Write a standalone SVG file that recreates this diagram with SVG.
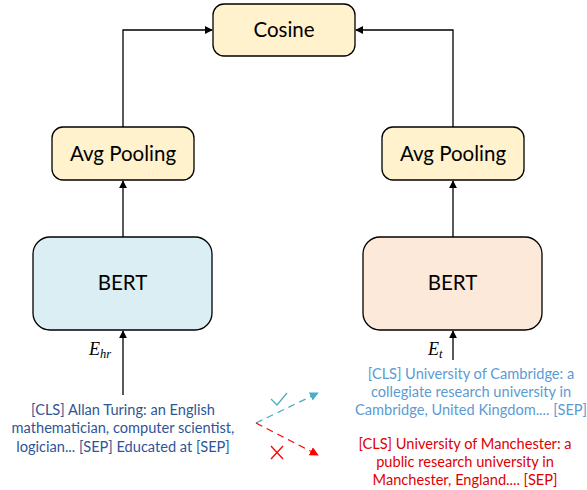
<svg xmlns="http://www.w3.org/2000/svg" width="587" height="490" viewBox="0 0 587 490">
<defs>
<style>
.box{stroke:#000;stroke-width:1.3}
.yel{fill:#FFF2CC}
.lbl{font-family:Lato,"Liberation Sans",sans-serif;font-size:20.5px;fill:#000;text-anchor:middle}
.con{fill:none;stroke:#000;stroke-width:1.3}
.txt{font-family:Lato,"Liberation Sans",sans-serif;font-size:14.6px;text-anchor:middle}
.math{font-family:"Liberation Serif",serif;font-style:italic;fill:#000}
</style>
<marker id="ah" viewBox="0 0 10 10" refX="9" refY="5" markerWidth="8" markerHeight="8" markerUnits="userSpaceOnUse" orient="auto"><path d="M0,0 L10,5 L0,10 Z" fill="#000"/></marker>
<marker id="ahb" viewBox="0 0 10 10" refX="9" refY="5" markerWidth="9" markerHeight="9" markerUnits="userSpaceOnUse" orient="auto"><path d="M0,0 L10,5 L0,10 Z" fill="#4BACC6"/></marker>
<marker id="ahr" viewBox="0 0 10 10" refX="9" refY="5" markerWidth="9" markerHeight="9" markerUnits="userSpaceOnUse" orient="auto"><path d="M0,0 L10,5 L0,10 Z" fill="#FF0000"/></marker>
</defs>
<rect width="587" height="490" fill="#fff"/>
<g id="connectors">
<path class="con" d="M123,127 V30 H212" marker-end="url(#ah)"/>
<path class="con" d="M453,127 V30 H356" marker-end="url(#ah)"/>
<path class="con" d="M123,237 V181" marker-end="url(#ah)"/>
<path class="con" d="M453,237 V181" marker-end="url(#ah)"/>
<path class="con" d="M123,395 V331" marker-end="url(#ah)"/>
<path class="con" d="M453,360 V331" marker-end="url(#ah)"/>
<path d="M256,423 L318,393" fill="none" stroke="#4BACC6" stroke-width="1.3" stroke-dasharray="7,5" marker-end="url(#ahb)"/>
<path d="M256,423 L318,455" fill="none" stroke="#FF0000" stroke-width="1.3" stroke-dasharray="7,5" marker-end="url(#ahr)"/>
<path d="M271,399 L277,405 L287,393" fill="none" stroke="#4BACC6" stroke-width="1.3"/>
<path d="M271,446 L283,459 M283,446 L271,459" fill="none" stroke="#FF0000" stroke-width="1.3"/>
</g>
<g id="cosine">
<rect class="box yel" x="213" y="4" width="142" height="52" rx="11"/>
<text class="lbl" x="284" y="37">Cosine</text>
</g>
<g id="avg-left">
<rect class="box yel" x="52" y="127" width="142" height="53" rx="11"/>
<text class="lbl" x="123" y="161">Avg Pooling</text>
</g>
<g id="avg-right">
<rect class="box yel" x="382" y="127" width="142" height="53" rx="11"/>
<text class="lbl" x="453" y="161">Avg Pooling</text>
</g>
<g id="bert-left">
<rect class="box" fill="#DAEEF3" x="33" y="237" width="179" height="93" rx="17"/>
<text class="lbl" x="122.5" y="290">BERT</text>
</g>
<g id="bert-right">
<rect class="box" fill="#FCE9DA" x="363" y="237" width="179" height="93" rx="17"/>
<text class="lbl" x="452.5" y="290">BERT</text>
</g>
<g id="label-ehr">
<text class="math" x="89" y="355" font-size="18">E<tspan font-size="12.5" dy="3">hr</tspan></text>
</g>
<g id="label-et">
<text class="math" x="428" y="355" font-size="18">E<tspan font-size="12.5" dy="3">t</tspan></text>
</g>
<g id="input-left">
<text class="txt" fill="#2F5597" x="123" y="415">[CLS] Allan Turing: an English</text>
<text class="txt" fill="#2F5597" x="123" y="433">mathematician, computer scientist,</text>
<text class="txt" fill="#2F5597" x="123" y="452">logician... [SEP] Educated at [SEP]</text>
</g>
<g id="candidate-pos">
<text class="txt" fill="#5B9BD5" x="471" y="379">[CLS] University of Cambridge: a</text>
<text class="txt" fill="#5B9BD5" x="471" y="397">collegiate research university in</text>
<text class="txt" fill="#5B9BD5" x="471" y="415">Cambridge, United Kingdom.... [SEP]</text>
</g>
<g id="candidate-neg">
<text class="txt" fill="#E00000" x="465" y="449">[CLS] University of Manchester: a</text>
<text class="txt" fill="#E00000" x="465" y="467">public research university in</text>
<text class="txt" fill="#E00000" x="465" y="485">Manchester, England.... [SEP]</text>
</g>
</svg>
